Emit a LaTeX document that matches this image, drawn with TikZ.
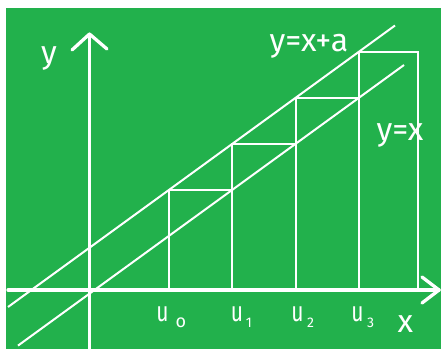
\documentclass[tikz,border=0pt]{standalone}
\usepackage{fontspec}
\setmainfont{Fira Sans}
\newfontfamily\narrowhand{Fira Sans}[FakeStretch=0.75]
\definecolor{board}{RGB}{34,177,76}
\begin{document}
\begin{tikzpicture}[x=1pt,y=-1pt,
  axis/.style={white,line width=3.3pt,line cap=round,line join=round},
  thin/.style={white,line width=2pt},
  lab/.style={white,font=\fontsize{32}{32}\selectfont,inner sep=0pt},
  ulab/.style={white,font=\narrowhand\fontsize{28}{28}\selectfont,inner sep=0pt},
  sub/.style={white,font=\fontsize{14}{14}\selectfont,inner sep=0pt}]
\useasboundingbox (0,0) rectangle (441,349);
\fill[white] (0,0) rectangle (441,349);
\fill[board] (6,8) rectangle (441,349);
% coordinates
\coordinate (yb) at (89.5,349);
\coordinate (yt) at (89.5,34);
\coordinate (yw1) at (72,50);
\coordinate (yw2) at (107,49);
\coordinate (xl) at (8,290);
\coordinate (xr) at (439,290);
\coordinate (xw1) at (422,277);
\coordinate (xw2) at (422,303);
\coordinate (ua) at (8,307);
\coordinate (ub) at (395,25.5);
\coordinate (la) at (18,345.6);
\coordinate (lb) at (404,65);
\coordinate (b0) at (169,290);
\coordinate (t0) at (232,190);
\coordinate (b1) at (232,290);
\coordinate (t1) at (296,144);
\coordinate (b2) at (296,290);
\coordinate (t2) at (359,98);
\coordinate (b3) at (359,290);
\coordinate (t3) at (418,52);
% boxes
\draw[thin] (b0) rectangle (t0);
\draw[thin] (b1) rectangle (t1);
\draw[thin] (b2) rectangle (t2);
\draw[thin] (b3) rectangle (t3);
% lines
\draw[thin] (ua) -- (ub);
\draw[thin] (la) -- (lb);
% axes
\draw[axis] (yb) -- (yt);
\draw[axis] (yw1) -- (yt) -- (yw2);
\draw[axis] (xl) -- (xr);
\draw[axis] (xw1) -- (xr) -- (xw2);
% labels
\node[lab] (ylab) at (49,58) {y};
\node[lab] (xlab) at (405.5,324) {x};
\node[lab] (l1) at (309,46) {y=x+a};
\node[lab] (l2) at (400,135) {y=x};
\node[ulab] (u0) at (162.5,314.5) {u};
\node[sub,font=\fontsize{18}{18}\selectfont] (s0) at (181,323) {o};
\node[ulab] (u1) at (237,314.5) {u};
\node[sub] (s1) at (249,323) {1};
\node[ulab] (u2) at (297.5,314.5) {u};
\node[sub] (s2) at (310.5,323) {2};
\node[ulab] (u3) at (357.5,314.5) {u};
\node[sub] (s3) at (370.5,323) {3};
\end{tikzpicture}
\end{document}
